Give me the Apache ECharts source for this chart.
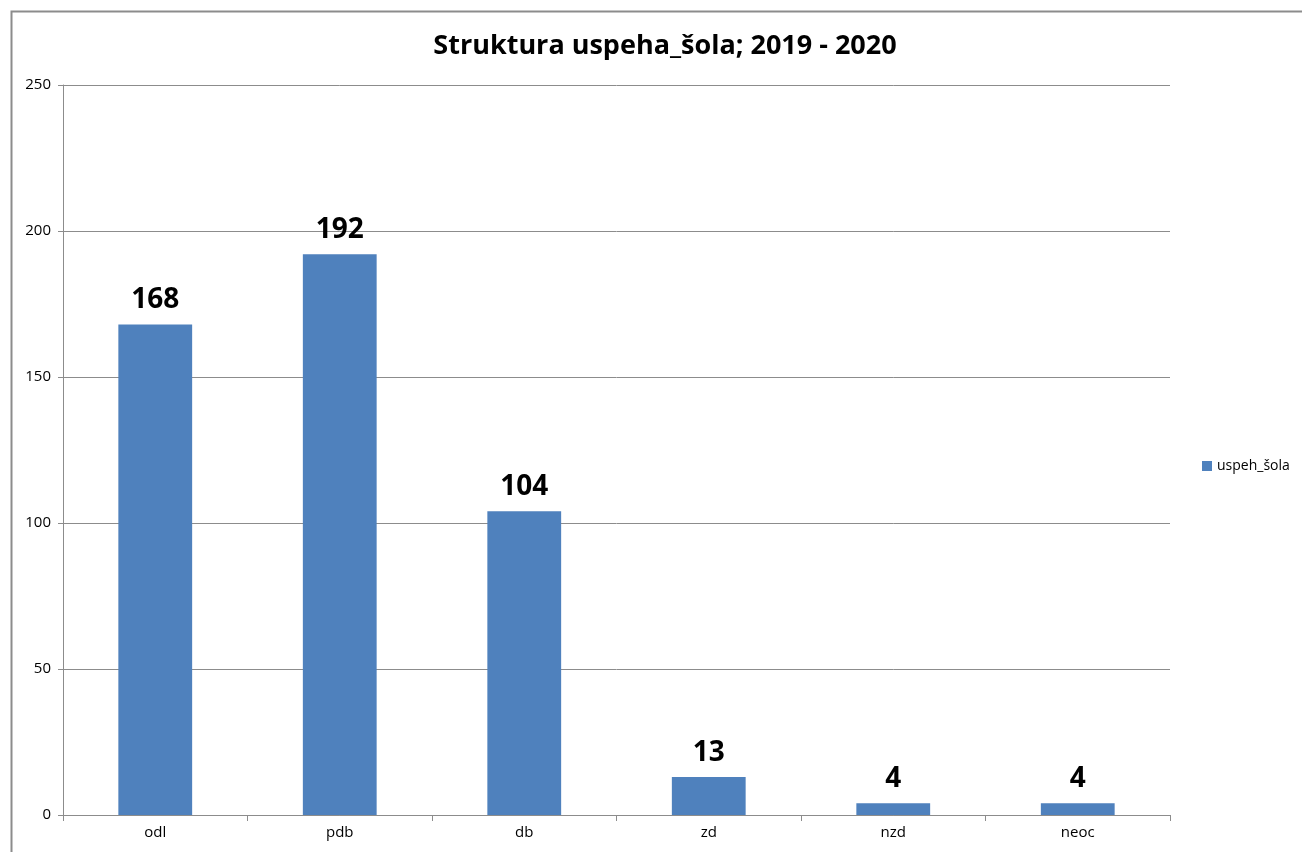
<!DOCTYPE html>
<html>
<head>
<meta charset="utf-8">
<script src="https://cdn.jsdelivr.net/npm/echarts@6/dist/echarts.min.js"></script>
<style>
html, body { margin: 0; padding: 0; background: #fff; }
#chart { width: 1302px; height: 852px; }
</style>
</head>
<body>
<div id="chart"></div>
<script>
var categories = ["odl", "pdb", "db", "zd", "nzd", "neoc"];
var values = [168, 192, 104, 13, 4, 4];
var seriesName = "uspeh_šola";
var titleText = "Struktura uspeha_šola; 2019 - 2020";

var chart = echarts.init(document.getElementById("chart"));
var fontName = "Open Sans";

var option = {
    animation: false,
    title: {
        text: titleText,
        left: 660,
        textAlign: "center",
        top: 28,
        textStyle: { fontFamily: fontName, fontSize: 27, fontWeight: "bold", color: "#000" }
    },
    legend: {
        data: [seriesName],
        orient: "vertical",
        left: 1197,
        top: 454,
        itemWidth: 10,
        itemHeight: 10,
        itemGap: 5,
        icon: "rect",
        textStyle: { fontFamily: fontName, fontSize: 14, color: "#000" }
    },
    graphic: [{
        type: "rect",
        left: 9,
        top: 9,
        shape: { width: 1300, height: 850 },
        style: { fill: "none", stroke: "#8c8c8c", lineWidth: 2 },
        silent: true
    }],
    grid: { left: 63, right: 132, top: 85, bottom: 37 },
    xAxis: {
        type: "category",
        data: categories,
        axisLine: { lineStyle: { color: "#8c8c8c" } },
        axisTick: { show: true, length: 6, lineStyle: { color: "#8c8c8c" } },
        axisLabel: { fontFamily: fontName, fontSize: 15, color: "#000", margin: 10 }
    },
    yAxis: {
        type: "value",
        min: 0,
        max: 250,
        interval: 50,
        axisLine: { show: true, lineStyle: { color: "#8c8c8c" } },
        axisTick: { show: true, length: 5, lineStyle: { color: "#8c8c8c" } },
        splitLine: { lineStyle: { color: "#8c8c8c" } },
        axisLabel: { fontFamily: fontName, fontSize: 15, color: "#000", margin: 12 }
    },
    series: [{
        name: seriesName,
        type: "bar",
        data: values,
        barWidth: "40%",
        itemStyle: { color: "#4f81bd" },
        label: {
            show: true,
            position: "top",
            distance: 10,
            fontFamily: fontName,
            fontSize: 28,
            fontWeight: "bold",
            color: "#000"
        }
    }]
};
chart.setOption(option);
</script>
</body>
</html>
